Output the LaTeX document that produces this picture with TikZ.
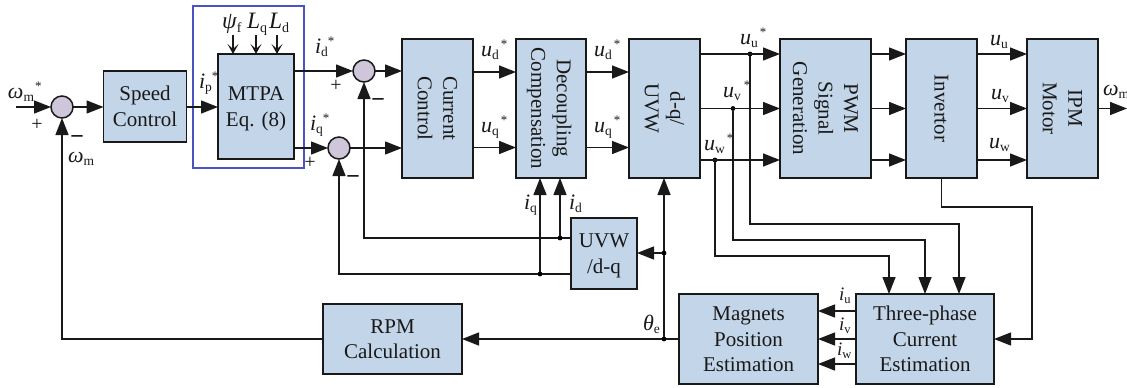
\documentclass[tikz,border=0pt]{standalone}
\usepackage{fontspec}
\setmainfont{Liberation Serif}
\usetikzlibrary{arrows.meta,calc}
\definecolor{boxfill}{HTML}{C3D5E8}
\definecolor{sumfill}{HTML}{CFC6DC}
\definecolor{frameblue}{HTML}{4A52C4}
\newcommand{\mainsz}{\fontsize{21}{25.5}\selectfont}
\newcommand{\mstrut}{\rule[-5pt]{0pt}{24pt}}
\newcommand{\symb}[3]{{\fontsize{22}{25}\selectfont\textit{#1}\raisebox{-3.5pt}{\fontsize{13.5}{14}\selectfont #2}\hspace{#3}}}
\newcommand{\bigsymb}[2]{{\fontsize{23.5}{25}\selectfont\textit{#1}\raisebox{-4pt}{\fontsize{14}{14}\selectfont #2}}}
\newcommand{\sstar}{\raisebox{8pt}{\fontsize{13}{14}\selectfont *}}
\newcommand{\smallsymb}[2]{{\fontsize{19}{20}\selectfont\textit{#1}\raisebox{-3.5pt}{\fontsize{12.5}{13}\selectfont #2}}}
\tikzset{
  blk/.style={draw=black!90,fill=boxfill,line width=1.5pt,inner sep=0pt,outer sep=0pt,align=center,font=\mainsz,text=black!90},
  vblk/.style={blk,rotate=-90},
  summer/.style={circle,draw=black!90,fill=sumfill,line width=1.5pt,minimum size=22pt,inner sep=0pt,outer sep=0pt},
  dotj/.style={circle,fill=black,minimum size=4.8pt,inner sep=0pt,outer sep=0pt},
  conn/.style={line width=1.4pt,draw=black!90},
  arr/.style={conn,-{Triangle[length=17pt,width=13pt]}},
  parr/.style={conn,line width=1.2pt,-{Stealth[length=10pt,width=11pt,inset=5pt]}},
  lab/.style={anchor=base west,inner sep=0pt,outer sep=0pt,text=black!90},
  sgn/.style={inner sep=0pt,outer sep=0pt,text=black!90,font=\fontsize{20}{20}\selectfont},
  neg/.style={inner sep=0pt,outer sep=0pt,text=black,font=\fontsize{22}{22}\selectfont\bfseries},
}
\newcommand{\hb}[6]{\node[blk,minimum width=#4pt,minimum height=#5pt] (#1) at (#2,#3) {\mstrut #6\mstrut};}
\newcommand{\vb}[6]{\node[vblk,minimum width=#5pt,minimum height=#4pt] (#1) at (#2,#3) {\mstrut #6\mstrut};}
\begin{document}
\begin{tikzpicture}[x=1pt,y=-1pt]
\useasboundingbox (0,0) rectangle (1127,388);
% blue frame
\node[draw=frameblue,line width=1.5pt,minimum width=111pt,minimum height=162pt,inner sep=0pt,outer sep=0pt] (frame) at (248.5,87) {};
% helper levels
\coordinate (yu) at (0,54);
\coordinate (yv) at (0,108.5);
\coordinate (yw) at (0,160);
\coordinate (yd) at (0,72);
\coordinate (yq) at (0,147.5);
\coordinate (yid) at (0,238);
\coordinate (yiq) at (0,274);
\coordinate (yiu) at (0,311);
\coordinate (yiw) at (0,364);
\coordinate (rc) at (959,224);
\coordinate (rb) at (925,240);
\coordinate (ra) at (889,256);
\coordinate (rinv) at (0,207);
\coordinate (xinv) at (1032,0);
\coordinate (inp) at (16,107);
\coordinate (outp) at (1127,108.5);
\coordinate (pa) at (233,35);
\coordinate (pb) at (256,35);
\coordinate (pc) at (277,35);
% blocks
\hb{speed}{145}{106.5}{83}{71}{Speed\\Control}
\hb{mtpa}{256}{106.5}{76}{105}{MTPA\\Eq. (8)}
\vb{cc}{437.5}{108.5}{71}{139}{Current\\Control}
\vb{dec}{551}{108.5}{70}{139}{Decoupling\\Compensation}
\vb{dq}{664.5}{108.5}{71}{139}{d-q/\\UVW}
\vb{pwm}{825.5}{108.5}{91}{139}{PWM\\Signal\\Generation}
\vb{inv}{941.5}{108.5}{71}{139}{Invertor}
\vb{ipm}{1062.5}{108.5}{71}{139}{IPM\\Motor}
\hb{uvwdq}{604}{253.5}{66}{71}{UVW\\/d-q}
\hb{mag}{748.5}{339}{139}{90}{Magnets\\Position\\Estimation}
\hb{tpc}{925}{339}{138}{90}{Three-phase\\Current\\Estimation}
\hb{rpm}{392.5}{339}{139}{70}{RPM\\Calculation}
% summers
\node[summer] (s1) at (62,107) {};
\node[summer] (s2) at (364,71) {};
\node[summer] (s3) at (339,148) {};
% junctions
\node[dotj] (ju) at (750,54) {};
\node[dotj] (jv) at (733,108.5) {};
\node[dotj] (jw) at (715,160) {};
\node[dotj] (jid) at (560,238) {};
\node[dotj] (jiq) at (540,274) {};
\node[dotj] (jang) at (664,253) {};
\node[dotj] (jth) at (664,339) {};
% connectors (rotated blocks: visual west = .south, visual east = .north)
\draw[arr] (inp) -- (s1.west);
\draw[arr] (s1.east) -- (speed.west |- s1);
\draw[arr] (speed.east |- s1) -- (mtpa.west |- s1);
\draw[arr] (mtpa.east |- s2) -- (s2.west);
\draw[arr] (mtpa.east |- s3) -- (s3.west);
\draw[arr] (s2.east) -- (cc.south |- s2);
\draw[arr] (s3.east) -- (cc.south |- s3);
\draw[parr] (pa) -- (pa |- mtpa.north);
\draw[parr] (pb) -- (pb |- mtpa.north);
\draw[parr] (pc) -- (pc |- mtpa.north);
\draw[arr] (cc.north |- yd) -- (dec.south |- yd);
\draw[arr] (cc.north |- yq) -- (dec.south |- yq);
\draw[arr] (dec.north |- yd) -- (dq.south |- yd);
\draw[arr] (dec.north |- yq) -- (dq.south |- yq);
\draw[arr] (dq.north |- ju) -- (pwm.south |- ju);
\draw[arr] (dq.north |- jv) -- (pwm.south |- jv);
\draw[arr] (dq.north |- jw) -- (pwm.south |- jw);
\draw[arr] (pwm.north |- yu) -- (inv.south |- yu);
\draw[arr] (pwm.north |- yv) -- (inv.south |- yv);
\draw[arr] (pwm.north |- yw) -- (inv.south |- yw);
\draw[arr] (inv.north |- yu) -- (ipm.south |- yu);
\draw[arr] (inv.north |- yv) -- (ipm.south |- yv);
\draw[arr] (inv.north |- yw) -- (ipm.south |- yw);
\draw[arr] (ipm.north |- outp) -- (outp);
% feedback
\draw[arr] (uvwdq.west |- yid) -- (jid) -- (s2 |- yid) -- (s2.south);
\draw[arr] (uvwdq.west |- yiq) -- (jiq) -- (s3 |- yiq) -- (s3.south);
\draw[arr] (jid) -- (jid |- dec.east);
\draw[arr] (jiq) -- (jiq |- dec.east);
\draw[arr] (jth) -- (jang) -- (jang |- dq.east);
\draw[arr] (jang) -- (uvwdq.east |- jang);
\draw[conn] (mag.west) -- (jth);
\draw[arr] (jth) -- (rpm.east);
\draw[arr] (rpm.west) -- (s1 |- rpm) -- (s1.south);
% three-phase tap-offs
\draw[arr] (ju) -- (ju |- rc) -- (rc) -- (rc |- tpc.north);
\draw[arr] (jv) -- (jv |- rb) -- (rb) -- (rb |- tpc.north);
\draw[arr] (jw) -- (jw |- ra) -- (ra) -- (ra |- tpc.north);
\draw[arr] (inv.east) -- (inv.east |- rinv) -- (xinv |- rinv) -- (xinv |- tpc.east) -- (tpc.east);
\draw[arr] (tpc.west |- yiu) -- (mag.east |- yiu);
\draw[arr] (tpc.west) -- (mag.east);
\draw[arr] (tpc.west |- yiw) -- (mag.east |- yiw);
% labels
\node[lab] (l1) at (8,98) {\symb{ω}{m}{1pt}\sstar};
\node[lab] (l2) at (68,162) {\symb{ω}{m}{0pt}};
\node[lab] (l3) at (199,88) {\symb{i}{p}{0pt}\sstar};
\node[lab] (l4) at (222,28) {\bigsymb{ψ}{f}};
\node[lab] (l5) at (247,28) {\bigsymb{L}{q}};
\node[lab] (l6) at (269,28) {\bigsymb{L}{d}};
\node[lab] (l7) at (315,53) {\symb{i}{d}{0pt}\sstar};
\node[lab] (l8) at (310,130) {\symb{i}{q}{0pt}\sstar};
\node[lab] (l9) at (481,56) {\symb{u}{d}{2pt}\sstar};
\node[lab] (l10) at (481,132) {\symb{u}{q}{2pt}\sstar};
\node[lab] (l11) at (594,56) {\symb{u}{d}{2pt}\sstar};
\node[lab] (l12) at (594,132) {\symb{u}{q}{2pt}\sstar};
\node[lab] (l13) at (740,44) {\symb{u}{u}{2pt}\sstar};
\node[lab] (l14) at (723,97) {\symb{u}{v}{3pt}\sstar};
\node[lab] (l15) at (704,150) {\symb{u}{w}{2pt}\sstar};
\node[lab] (l16) at (990,45) {\symb{u}{u}{0pt}};
\node[lab] (l17) at (991,99) {\symb{u}{v}{0pt}};
\node[lab] (l18) at (989,148) {\symb{u}{w}{0pt}};
\node[lab] (l19) at (1103,95) {\symb{ω}{m}{0pt}};
\node[lab] (l20) at (524,209) {\symb{i}{q}{0pt}};
\node[lab] (l21) at (569,209) {\symb{i}{d}{0pt}};
\node[lab] (l22) at (643,330) {\symb{θ}{e}{0pt}};
\node[lab] (l23) at (839,300) {\smallsymb{i}{u}};
\node[lab] (l24) at (839,330) {\smallsymb{i}{v}};
\node[lab] (l25) at (837,355) {\smallsymb{i}{w}};
\node[sgn] (p1) at (37,125) {+};
\node[sgn] (p2) at (336,86) {+};
\node[sgn] (p3) at (310,163) {+};
\node[neg] (m1) at (77,139) {–};
\node[neg] (m2) at (378,102) {–};
\node[neg] (m3) at (353,179) {–};
\end{tikzpicture}
\end{document}
